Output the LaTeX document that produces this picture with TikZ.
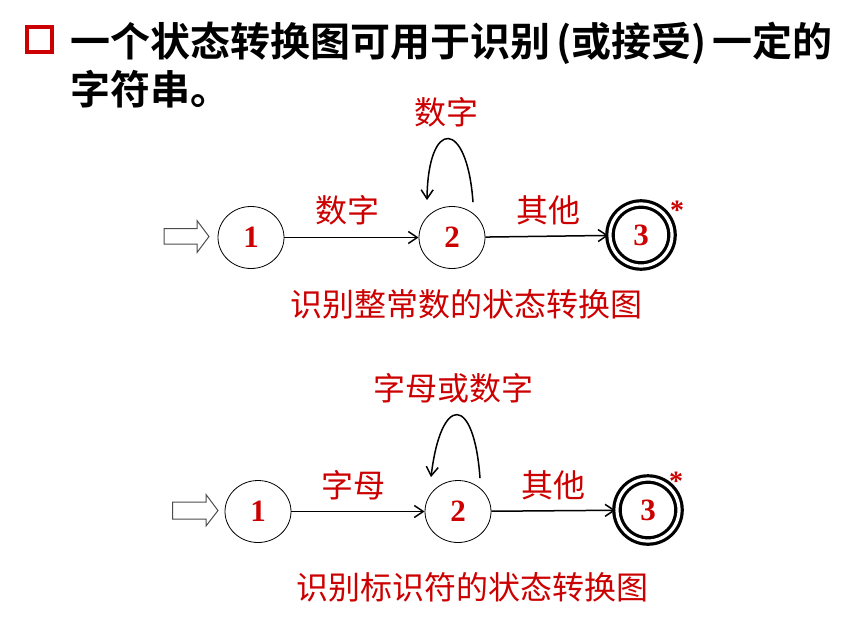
\documentclass[tikz,border=0pt]{standalone}
\usepackage{fontspec}
\usetikzlibrary{arrows.meta,shapes.geometric}
\newfontfamily\cjk{Noto Sans CJK SC}
\newfontfamily\cjkbold{Noto Sans CJK SC Bold}
\newfontfamily\tnr{Liberation Serif}
\definecolor{myred}{RGB}{204,0,0}
\tikzset{
  state/.style={ellipse,draw,line width=0.8pt,minimum width=66pt,minimum height=62pt,inner sep=0pt,
     font=\tnr\bfseries\fontsize{31}{31}\selectfont,text=myred},
  final/.style={circle,draw,line width=3.2pt,double,double distance=3.2pt,minimum size=62pt,inner sep=0pt,
     font=\tnr\bfseries\fontsize{31}{31}\selectfont,text=myred},
  lbl/.style={font=\cjk\fontsize{32}{32}\selectfont,text=myred,inner sep=0pt},
  ttl/.style={font=\cjkbold\fontsize{40}{40}\selectfont,anchor=west,inner sep=0pt},
  edge/.style={line width=1.5pt,-{Straight Barb[length=9pt,width=12pt,line width=1.5pt]}},
  hollow/.style={draw=black!70,line width=1pt,fill=white},
  star/.style={text=myred,font=\tnr\bfseries\fontsize{28}{28}\selectfont,inner sep=0pt}
}
\begin{document}
\begin{tikzpicture}[x=1pt,y=-1pt]
\path[use as bounding box] (0,0) rectangle (861,624);
% title
\draw[myred,line width=4pt] (27,27) rectangle (52,51.5);
\node[ttl] (t1) at (70,43) {一个状态转换图可用于识别\hspace{6pt}(或接受)\hspace{6pt}一定的};
\node[ttl] (t2) at (70,89) {字符串。};
% diagram 1
\draw[hollow] (164,228.5) -- (197,228.5) -- (197,220.5) -- (209,236.5) -- (197,252.5) -- (197,244) -- (164,244) -- cycle;
\node[state] (a1) at (251,237.5) {1};
\node[state] (a2) at (452,237.5) {2};
\node[final] (a3) at (641,235) {3};
\node[star] (as) at (677,210) {*};
\draw[edge] (a1) -- (a2);
\draw[edge] (a2) -- (a3);
\node[lbl] (la1) at (347,210) {数字};
\node[lbl] (la2) at (548,210) {其他};
\coordinate (a2r) at ([shift={(21,-4)}]a2.north);
\coordinate (a2l) at ([shift={(-25,-6)}]a2.north);
\draw[edge] (a2r) .. controls (467,118) and (428,118) .. (a2l);
\node[lbl] (la3) at (446,112) {数字};
\node[lbl] (ca) at (466,304) {识别整常数的状态转换图};
% diagram 2
\draw[hollow] (172.5,502) -- (206,502) -- (206,494.5) -- (218,510.5) -- (206,526) -- (206,519) -- (172.5,519) -- cycle;
\node[state] (b1) at (258,511.5) {1};
\node[state] (b2) at (458,511.5) {2};
\node[final] (b3) at (648,510) {3};
\node[star] (bs) at (676,481) {*};
\draw[edge] (b1) -- (b2);
\draw[edge] (b2) -- (b3);
\node[lbl] (lb1) at (353,485) {字母};
\node[lbl] (lb2) at (553,485) {其他};
\coordinate (b2r) at ([shift={(22,-2)}]b2.north);
\coordinate (b2l) at ([shift={(-27,-3)}]b2.north);
\draw[edge] (b2r) .. controls (474,394) and (441,394) .. (b2l);
\node[lbl] (lb3) at (453,388) {字母或数字};
\node[lbl] (cb) at (472,587) {识别标识符的状态转换图};
\end{tikzpicture}
\end{document}
